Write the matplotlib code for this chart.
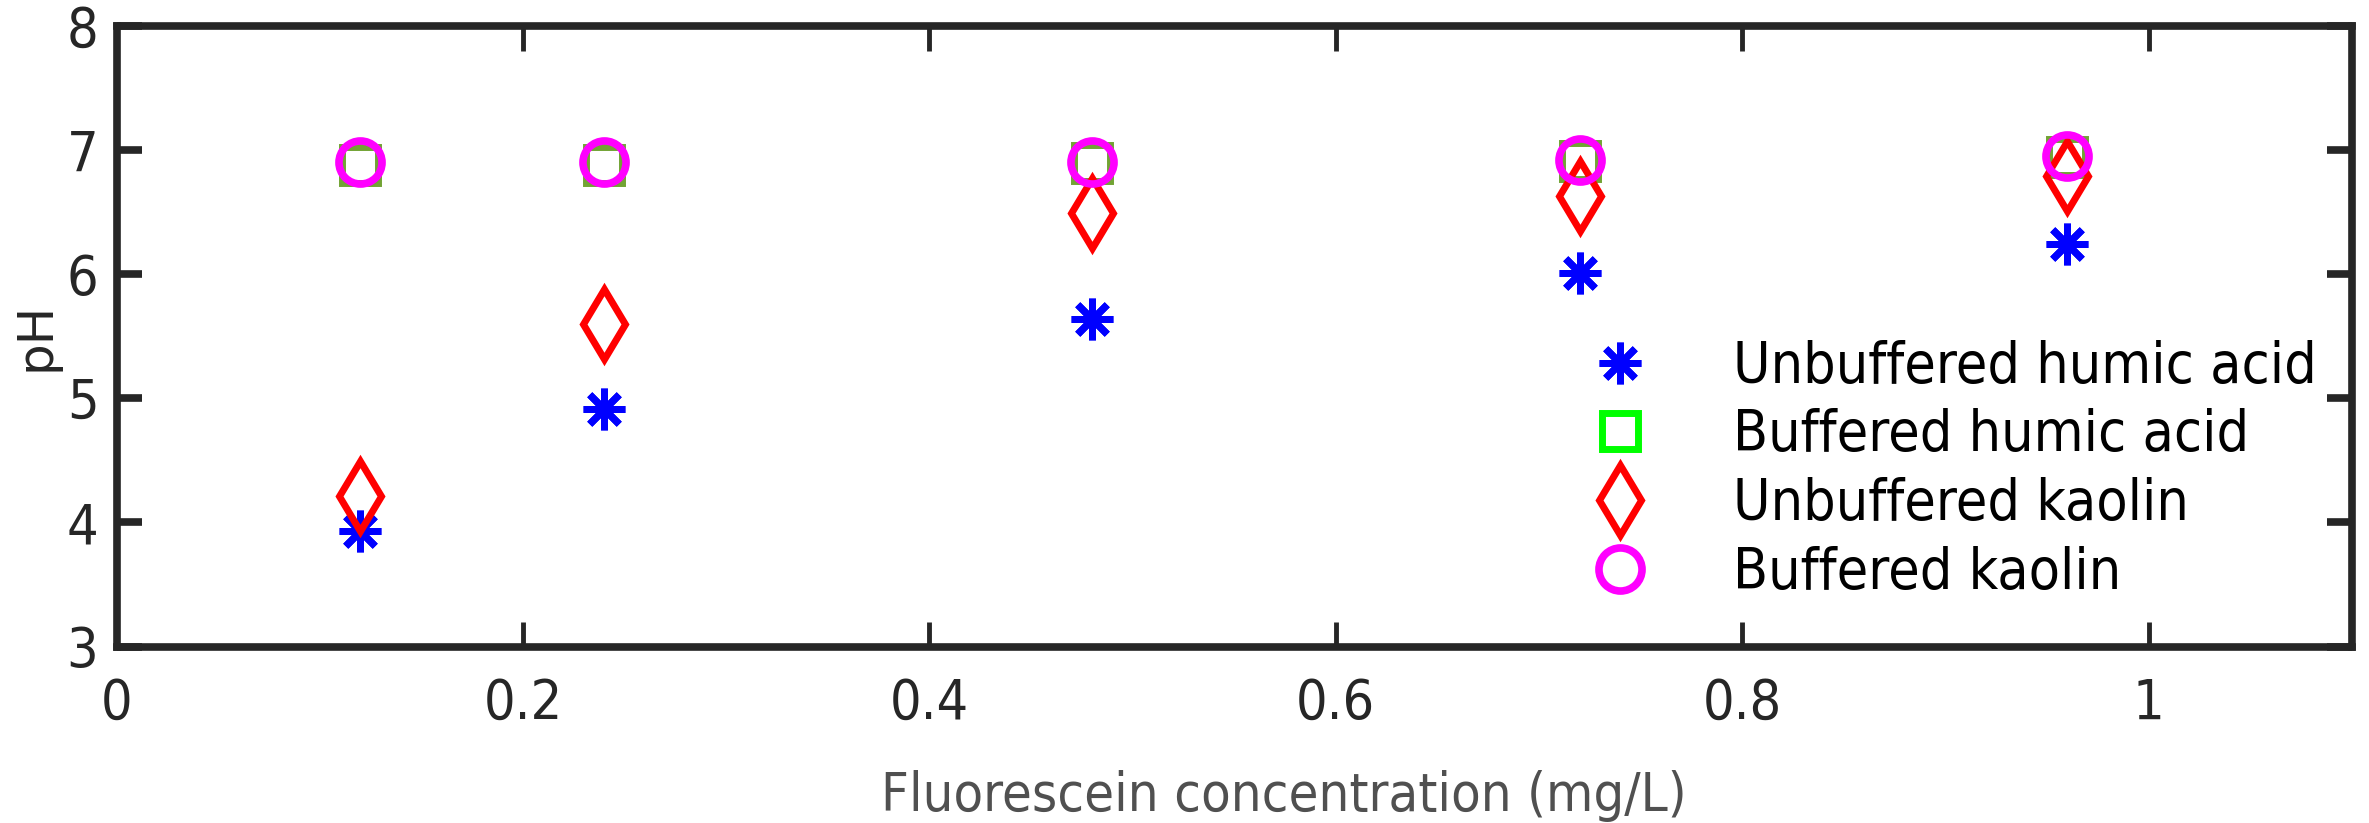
import numpy as np
import matplotlib
matplotlib.use('Agg')
import matplotlib.pyplot as plt
from matplotlib import font_manager

# fluorescein concentration (mg/L)
conc = [0.12, 0.24, 0.48, 0.72, 0.96]

# measured pH for each suspension
ph_unbuf_humic = [3.93, 4.91, 5.64, 6.01, 6.24]
ph_buf_humic = [6.88, 6.88, 6.89, 6.91, 6.94]
ph_unbuf_kaolin = [4.21, 5.60, 6.49, 6.63, 6.79]
ph_buf_kaolin = [6.90, 6.90, 6.90, 6.92, 6.95]

labels = ['Unbuffered humic acid', 'Buffered humic acid',
          'Unbuffered kaolin', 'Buffered kaolin']

xticks = [0, 0.2, 0.4, 0.6, 0.8, 1]
yticks = [3, 4, 5, 6, 7, 8]

dark = '#262626'
cond = font_manager.FontProperties(family='DejaVu Sans', stretch='condensed')

W, H = 2369, 823
fig = plt.figure(figsize=(W / 100, H / 100), dpi=100)
ax = fig.add_axes([116.5 / W, 1 - 646.5 / H, 2235.5 / W, 621 / H])

ax.plot(conc, ph_unbuf_humic, ls='none', marker=(8, 2, 0), ms=30, mew=5,
        color='#0000ff', label=labels[0])
ax.plot(conc, ph_buf_humic, ls='none', marker='s', ms=26, mew=5,
        mfc='none', mec='#72a334', label=labels[1])
ax.plot(conc, ph_unbuf_kaolin, ls='none', marker='d', ms=36, mew=5,
        mfc='none', mec='#ff0000', label=labels[2])
ax.plot(conc, ph_buf_kaolin, ls='none', marker='o', ms=31, mew=5.5,
        mfc='none', mec='#ff00ff', label=labels[3])

ax.set_xlim(0, 1.1)
ax.set_ylim(3, 8)
ax.set_xticks(xticks)
ax.set_xticklabels(['0', '0.2', '0.4', '0.6', '0.8', '1'])
ax.set_yticks(yticks)

for s in ax.spines.values():
    s.set_linewidth(5.5)
    s.set_color(dark)

ax.tick_params(axis='y', direction='in', length=18, width=5.5, color=dark,
               labelcolor=dark, pad=13, right=True)
ax.tick_params(axis='x', direction='in', length=18, width=3.5, color=dark,
               labelcolor=dark, pad=22, top=True)
for t in ax.get_xticklabels() + ax.get_yticklabels():
    t.set_fontproperties(cond)
    t.set_fontsize(40)

ax.set_xlabel('Fluorescein concentration (mg/L)', fontproperties=cond,
              fontsize=39, color='#505050', labelpad=28)
ax.xaxis.label.set_x(0.522)
ax.set_ylabel('pH', fontsize=36, color=dark, labelpad=5)

leg = ax.legend(loc='upper left', bbox_to_anchor=(0.660, 0.494), frameon=False,
                prop=font_manager.FontProperties(family='DejaVu Sans',
                                                 stretch='condensed', size=41),
                handlelength=1, handletextpad=1.48,
                labelspacing=0.24, borderpad=0, borderaxespad=0)
leg.legend_handles[1].set_markeredgecolor('#00ff00')

fig.savefig('out.png', dpi=100)
